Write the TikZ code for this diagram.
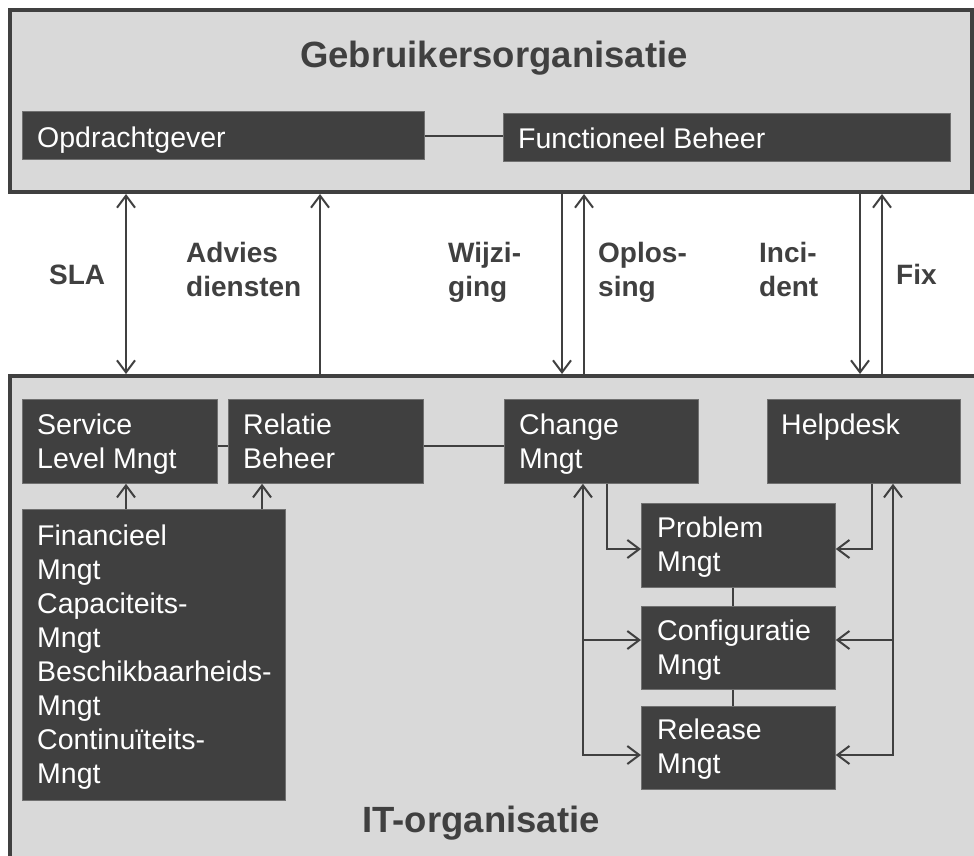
\documentclass[tikz,border=0pt]{standalone}
\usepackage{fontspec}
\setmainfont{Liberation Sans}
\usetikzlibrary{arrows.meta,calc}
\definecolor{dk}{HTML}{404040}
\definecolor{lg}{HTML}{D9D9D9}
\definecolor{edgec}{HTML}{707070}
\begin{document}
\begin{tikzpicture}[x=1pt,y=-1pt,
  frame/.style={draw=dk, line width=4pt, fill=lg, inner sep=0pt, outer sep=0pt, rectangle, anchor=north west},
  dbox/.style={draw=edgec, line width=0.8pt, fill=dk, inner sep=0pt, rectangle, anchor=north west},
  btext/.style={text=white, font=\fontsize{28.5}{34}\selectfont, align=left, anchor=base west, inner sep=0pt},
  lbl/.style={text=dk, font=\bfseries\fontsize{28}{34}\selectfont, align=left, anchor=base west, inner sep=0pt},
  ttl/.style={text=dk, font=\bfseries\fontsize{36.5}{42}\selectfont, anchor=base, inner sep=0pt},
  conn/.style={draw=dk, line width=2pt},
  arr/.style={-{Straight Barb[length=12pt,width=18pt]}},
  arrb/.style={{Straight Barb[length=12pt,width=18pt]}-{Straight Barb[length=12pt,width=18pt]}},
  fa/.style={shorten <=2pt, shorten >=2pt}
]
\useasboundingbox (0,0) rectangle (974,856);
\clip (0,0) rectangle (974,856);
\fill[white] (0,0) rectangle (974,856);

% frames
\node[frame, minimum width=962pt, minimum height=182pt] (gebr) at (10,10) {};
\node[frame, minimum width=1000pt, minimum height=600pt] (it) at (10,376) {};

\node[ttl] (t1) at (494,68) {Gebruikersorganisatie};
\node[ttl] (t2) at (481,832) {IT-organisatie};

% dark boxes
\node[dbox, minimum width=402pt, minimum height=48pt] (opd) at (22,111) {};
\node[dbox, minimum width=447pt, minimum height=48pt] (fb) at (503,113) {};
\node[dbox, minimum width=195pt, minimum height=84pt] (sl) at (22,399) {};
\node[dbox, minimum width=195pt, minimum height=84pt] (rb) at (228,399) {};
\node[dbox, minimum width=194pt, minimum height=84pt] (cm) at (504,399) {};
\node[dbox, minimum width=193pt, minimum height=84pt] (hd) at (767,399) {};
\node[dbox, minimum width=263pt, minimum height=291pt] (fin) at (22,509) {};
\node[dbox, minimum width=194pt, minimum height=84pt] (pm) at (641,503) {};
\node[dbox, minimum width=194pt, minimum height=83pt] (cf) at (641,606) {};
\node[dbox, minimum width=194pt, minimum height=83pt] (rl) at (641,706) {};

% box texts (base anchor = baseline of last line)
\node[btext] (topd) at ($(opd.north west)+(15,36)$) {Opdrachtgever};
\node[btext] (tfb) at ($(fb.north west)+(15,36)$) {Functioneel Beheer};
\node[btext] (tsl) at ($(sl.north west)+(15,69)$) {Service\\Level Mngt};
\node[btext] (trb) at ($(rb.north west)+(15,69)$) {Relatie\\Beheer};
\node[btext] (tcm) at ($(cm.north west)+(15,69)$) {Change\\Mngt};
\node[btext] (thd) at ($(hd.north west)+(14,35)$) {Helpdesk};
\node[btext] (tfin) at ($(fin.north west)+(15,274)$) {Financieel\\Mngt\\Capaciteits-\\Mngt\\Beschikbaarheids-\\Mngt\\Continuïteits-\\Mngt};
\node[btext] (tpm) at ($(pm.north west)+(16,68)$) {Problem\\Mngt};
\node[btext] (tcf) at ($(cf.north west)+(16,68)$) {Configuratie\\Mngt};
\node[btext] (trl) at ($(rl.north west)+(16,67)$) {Release\\Mngt};

% labels between frames
\node[lbl] (lsla) at (49,284) {SLA};
\node[lbl] (ladv) at (186,296) {Advies\\diensten};
\node[lbl] (lwij) at (448,296) {Wijzi-\\ging};
\node[lbl] (lopl) at (598,296) {Oplos-\\sing};
\node[lbl] (linc) at (759,296) {Inci-\\dent};
\node[lbl] (lfix) at (896,284) {Fix};

% x positions
\coordinate (xsla) at (126,0);
\coordinate (xadv) at (320,0);
\coordinate (xwij) at (562,0);
\coordinate (xopl) at (584,0);
\coordinate (xinc) at (860,0);
\coordinate (xfix) at (882,0);
\coordinate (xfr) at (262,0);

% arrows between frames
\draw[conn, fa, arrb] (gebr.south -| xsla) -- (it.north -| xsla);
\draw[conn, fa, arr] (it.north -| xadv) -- (gebr.south -| xadv);
\draw[conn, fa, arr] (gebr.south -| xwij) -- (it.north -| xwij);
\draw[conn, fa, arr] (it.north -| xopl) -- (gebr.south -| xopl);
\draw[conn, fa, arr] (gebr.south -| xinc) -- (it.north -| xinc);
\draw[conn, fa, arr] (it.north -| xfix) -- (gebr.south -| xfix);

% plain connectors
\draw[conn] ($(opd.east)+(0,1)$) -- ($(opd.east -| fb.west)+(0,1)$);
\coordinate (y446) at (0,446);
\draw[conn] (sl.east |- y446) -- (rb.west |- y446);
\draw[conn] (rb.east |- y446) -- (cm.west |- y446);
\coordinate (xv) at (733,0);
\draw[conn] (pm.south -| xv) -- (cf.north -| xv);
\draw[conn] (cf.south -| xv) -- (rl.north -| xv);

% financieel arrows
\draw[conn, arr] (fin.north -| xsla) -- (sl.south -| xsla);
\draw[conn, arr] (fin.north -| xfr) -- (rb.south -| xfr);

% left side
\coordinate (lc) at (583,640);
\coordinate (lr) at (583,755);
\coordinate (yp) at (0,549);
\draw[conn, arrb] (cm.south -| lr) -- (lr) -- (lr -| rl.west);
\draw[conn, arr] (lc) -- (lc -| cf.west);
\coordinate (xcp) at (607,0);
\draw[conn, arr] (cm.south -| xcp) |- (pm.west |- yp);

% right side
\coordinate (rc) at (893,640);
\coordinate (rr) at (893,755);
\draw[conn, arrb] (hd.south -| rr) -- (rr) -- (rr -| rl.east);
\draw[conn, arr] (rc) -- (rc -| cf.east);
\coordinate (xhp) at (872,0);
\draw[conn, arr] (hd.south -| xhp) |- (pm.east |- yp);
\end{tikzpicture}
\end{document}
